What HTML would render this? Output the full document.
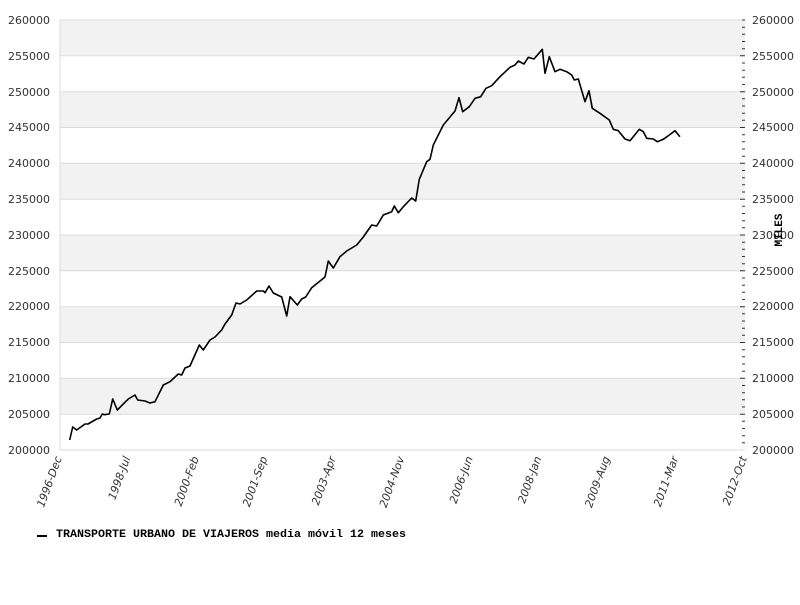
<!DOCTYPE html>
<html><head><meta charset="utf-8"><style>
body{margin:0;background:#fff;}
svg text{font-family:"DejaVu Sans","Liberation Sans",sans-serif;font-size:11px;fill:#333;}
</style></head><body>
<svg width="800" height="600" xmlns="http://www.w3.org/2000/svg">
<rect width="800" height="600" fill="#fff"/>
<g fill="#f2f2f2">
<rect x="60" y="20" width="685" height="35.8"/>
<rect x="60" y="91.7" width="685" height="35.8"/>
<rect x="60" y="163.3" width="685" height="35.8"/>
<rect x="60" y="235" width="685" height="35.8"/>
<rect x="60" y="306.7" width="685" height="35.8"/>
<rect x="60" y="378.3" width="685" height="35.8"/>
</g>
<g stroke="#ddd" stroke-width="1">
<line x1="60" x2="745" y1="55.8" y2="55.8"/><line x1="60" x2="745" y1="91.7" y2="91.7"/>
<line x1="60" x2="745" y1="127.5" y2="127.5"/><line x1="60" x2="745" y1="163.3" y2="163.3"/>
<line x1="60" x2="745" y1="199.2" y2="199.2"/><line x1="60" x2="745" y1="235" y2="235"/>
<line x1="60" x2="745" y1="270.8" y2="270.8"/><line x1="60" x2="745" y1="306.7" y2="306.7"/>
<line x1="60" x2="745" y1="342.5" y2="342.5"/><line x1="60" x2="745" y1="378.3" y2="378.3"/>
<line x1="60" x2="745" y1="414.2" y2="414.2"/>
<line x1="60" x2="60" y1="20" y2="450"/><line x1="60" x2="745" y1="450" y2="450"/>
<line x1="60" x2="745" y1="20" y2="20"/>
</g>
<path stroke="#333" stroke-width="1" fill="none" d="M742 20h3M742 27.2h3M742 34.3h3M742 41.5h3M742 48.7h3M740 55.8h5M742 63h3M742 70.2h3M742 77.3h3M742 84.5h3M740 91.7h5M742 98.8h3M742 106h3M742 113.2h3M742 120.3h3M740 127.5h5M742 134.7h3M742 141.8h3M742 149h3M742 156.2h3M740 163.3h5M742 170.5h3M742 177.7h3M742 184.8h3M742 192h3M740 199.2h5M742 206.3h3M742 213.5h3M742 220.7h3M742 227.8h3M740 235h5M742 242.2h3M742 249.3h3M742 256.5h3M742 263.7h3M740 270.8h5M742 278h3M742 285.2h3M742 292.3h3M742 299.5h3M740 306.7h5M742 313.8h3M742 321h3M742 328.2h3M742 335.3h3M740 342.5h5M742 349.7h3M742 356.8h3M742 364h3M742 371.2h3M740 378.3h5M742 385.5h3M742 392.7h3M742 399.8h3M742 407h3M740 414.2h5M742 421.3h3M742 428.5h3M742 435.7h3M742 442.8h3"/>
<g text-anchor="end">
<text x="50" y="24">260000</text><text x="50" y="60">255000</text><text x="50" y="96">250000</text>
<text x="50" y="131">245000</text><text x="50" y="167">240000</text><text x="50" y="203">235000</text>
<text x="50" y="239">230000</text><text x="50" y="275">225000</text><text x="50" y="310">220000</text>
<text x="50" y="346">215000</text><text x="50" y="382">210000</text><text x="50" y="418">205000</text>
<text x="50" y="454">200000</text>
</g>
<g>
<text x="752" y="24">260000</text><text x="752" y="60">255000</text><text x="752" y="96">250000</text>
<text x="752" y="131">245000</text><text x="752" y="167">240000</text><text x="752" y="203">235000</text>
<text x="752" y="239">230000</text><text x="752" y="275">225000</text><text x="752" y="310">220000</text>
<text x="752" y="346">215000</text><text x="752" y="382">210000</text><text x="752" y="418">205000</text>
<text x="752" y="454">200000</text>
</g>
<text x="782" y="230" transform="rotate(-90 782 230)" text-anchor="middle" style="font-family:'Liberation Mono',monospace;font-weight:bold;fill:#000;font-size:11px">MILES</text>
<g style="font-style:italic" text-anchor="end">
<text transform="translate(62,458) rotate(-70)">1996-Dec</text>
<text transform="translate(130.5,458) rotate(-70)">1998-Jul</text>
<text transform="translate(199,458) rotate(-70)">2000-Feb</text>
<text transform="translate(267.5,458) rotate(-70)">2001-Sep</text>
<text transform="translate(336,458) rotate(-70)">2003-Apr</text>
<text transform="translate(404.5,458) rotate(-70)">2004-Nov</text>
<text transform="translate(473,458) rotate(-70)">2006-Jun</text>
<text transform="translate(541.5,458) rotate(-70)">2008-Jan</text>
<text transform="translate(610,458) rotate(-70)">2009-Aug</text>
<text transform="translate(678.5,458) rotate(-70)">2011-Mar</text>
<text transform="translate(747,458) rotate(-70)">2012-Oct</text>
</g>
<polyline fill="none" stroke="#000" stroke-width="1.6" stroke-linejoin="round" points="69.7,440 72.7,427 76.7,430 85,424 88,424 96.7,419 100,418 102.3,414 104.3,414.7 109.3,414 112.7,399 117.3,410 128.3,399 135,395 137.7,400 145,401 150,403 155,401.7 163.3,385 170,381.7 178.3,374 181.7,375 185,368 190,366 199.3,345 203.3,350 210,340 215,337 221.7,330 225,324 231.7,315 236,303 240,304 246.7,300 256.7,291 263.3,291 265,292.7 269,286 273.3,293 281.7,297 286.7,316 290,296.7 297.3,305 301.7,299 305.7,297 311.7,287.7 325,277 328.3,261 333.3,268 340,256.7 346.7,251 356.7,245 363.3,237 371.7,225 376.7,226 383.3,215 391.7,211.7 394.3,206 398.3,212.7 403.3,206.7 411.7,198 415.7,201 419.3,179.3 426.7,161.7 430,159.3 433.3,145 443.3,125 455,111 459,97.7 462.7,111.7 469.3,106.7 475,98.3 480.7,96.7 486,88.3 491.7,85.7 500,76.7 510,67.3 515,65 518.3,61 524,64 528.3,57.3 534,59 542.3,49.3 545,73.3 549.3,56.7 555,71.7 560,69.3 566.7,71.7 571.7,75 574.3,80 578.3,79 585,101.7 589,90.7 592.3,108.3 600,113.3 609.3,120 613.3,129.3 618.3,130.7 625,139 630,140.7 639.3,129.3 643.3,131.7 646.7,138.3 653.3,139 657.3,141.7 663.3,139.3 669.3,135 675,130.7 680,136.7"/>
<rect x="37" y="535" width="10" height="2" fill="#000"/>
<text x="56" y="537" textLength="350" lengthAdjust="spacingAndGlyphs" style="font-family:'Liberation Mono',monospace;font-weight:bold;fill:#000;font-size:11px">TRANSPORTE URBANO DE VIAJEROS media móvil 12 meses</text>
</svg>
</body></html>
